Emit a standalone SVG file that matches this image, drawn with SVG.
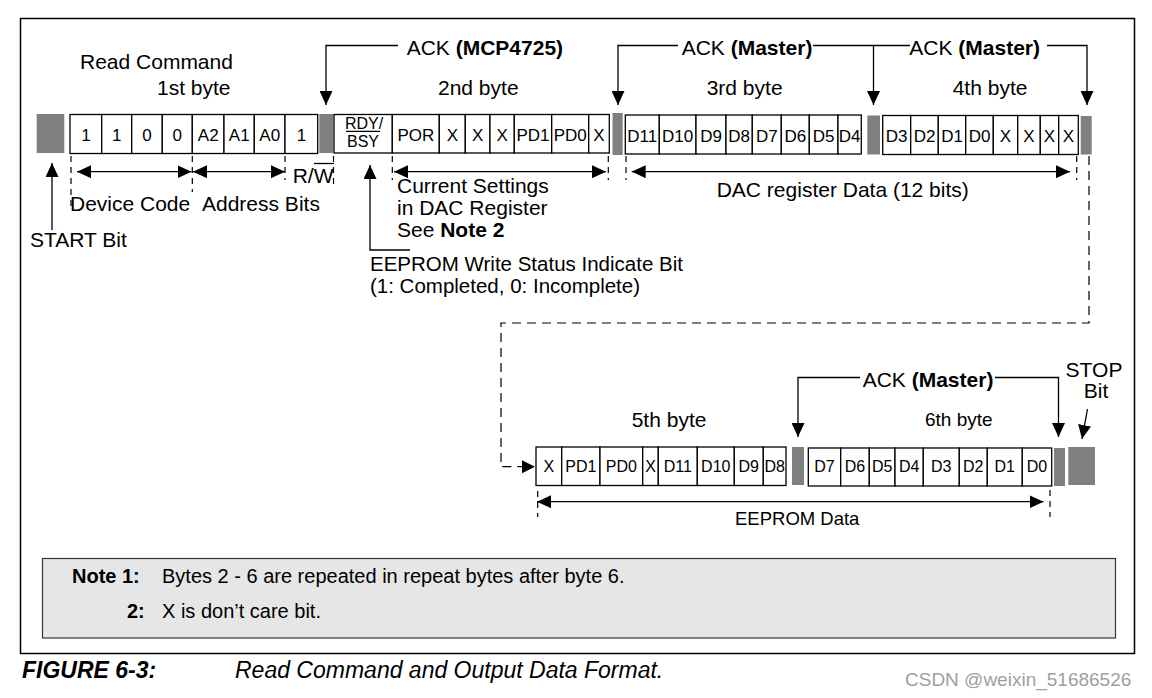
<svg xmlns="http://www.w3.org/2000/svg" width="1152" height="698" viewBox="0 0 1152 698">
<defs>
<marker id="ah" markerUnits="userSpaceOnUse" viewBox="0 0 14 13" refX="14" refY="6.5" markerWidth="14" markerHeight="13" orient="auto-start-reverse">
<path d="M0,0 L14,6.5 L0,13 z" fill="#000"/>
</marker>
</defs>
<style>
.t{font-family:"Liberation Sans",Arial,sans-serif;fill:#000}
.lbl{font-size:21px}
.ct{font-size:17px;text-anchor:middle}
.ct2{font-size:16px;text-anchor:middle}
.b{font-weight:bold}
.cell{fill:#fff;stroke:#000;stroke-width:1.3}
.ack{fill:#808080}
.ln{stroke:#000;stroke-width:1.3;fill:none}
.arr{stroke:#000;stroke-width:1.3;fill:none;marker-end:url(#ah)}
.darr{stroke:#000;stroke-width:1.3;fill:none;marker-end:url(#ah);marker-start:url(#ah)}
.g{stroke:#000;stroke-width:1.2;stroke-dasharray:6 5;fill:none}
.gl{stroke:#000;stroke-width:1.2;stroke-dasharray:9 6;fill:none}
</style>
<rect width="1152" height="698" fill="#fff"/>
<rect id="frame" x="20.5" y="18.5" width="1114" height="635" fill="none" stroke="#000" stroke-width="1.5"/>

<g id="start-bit"><rect class="ack" x="36.7" y="114" width="27.6" height="39"/></g>

<g id="byte1">
<rect class="cell" x="70" y="114.5" width="31.7" height="39"/>
<rect class="cell" x="101.7" y="114.5" width="30" height="39"/>
<rect class="cell" x="131.7" y="114.5" width="30.6" height="39"/>
<rect class="cell" x="162.3" y="114.5" width="30" height="39"/>
<rect class="cell" x="192.3" y="114.5" width="31.7" height="39"/>
<rect class="cell" x="224" y="114.5" width="30.3" height="39"/>
<rect class="cell" x="254.3" y="114.5" width="30.7" height="39"/>
<rect class="cell" x="285" y="114.5" width="32.7" height="39"/>
<text class="t ct" x="85.9" y="141">1</text>
<text class="t ct" x="116.7" y="141">1</text>
<text class="t ct" x="147" y="141">0</text>
<text class="t ct" x="177.3" y="141">0</text>
<text class="t ct" x="208.2" y="141">A2</text>
<text class="t ct" x="239.2" y="141">A1</text>
<text class="t ct" x="269.7" y="141">A0</text>
<text class="t ct" x="301.4" y="141">1</text>
</g>
<g id="ack1"><rect class="ack" x="319.3" y="114" width="14" height="39"/></g>

<g id="byte2">
<rect class="cell" x="334" y="114.5" width="58.3" height="38.5"/>
<rect class="cell" x="392.3" y="114.5" width="47" height="38.5"/>
<rect class="cell" x="439.3" y="114.5" width="26" height="38.5"/>
<rect class="cell" x="465.3" y="114.5" width="24.7" height="38.5"/>
<rect class="cell" x="490" y="114.5" width="24.3" height="38.5"/>
<rect class="cell" x="514.3" y="114.5" width="37.4" height="38.5"/>
<rect class="cell" x="551.7" y="114.5" width="37" height="38.5"/>
<rect class="cell" x="588.7" y="114.5" width="20.6" height="38.5"/>
<text class="t ct2" x="364" y="129">RDY/</text>
<line class="ln" x1="346" y1="131.3" x2="380" y2="131.3" stroke-width="1.1"/>
<text class="t ct2" x="363" y="147">BSY</text>
<text class="t ct" x="415.8" y="141">POR</text>
<text class="t ct" x="452.3" y="141">X</text>
<text class="t ct" x="477.7" y="141">X</text>
<text class="t ct" x="502.2" y="141">X</text>
<text class="t ct" x="533" y="141">PD1</text>
<text class="t ct" x="570.2" y="141">PD0</text>
<text class="t ct" x="599" y="141">X</text>
</g>
<g id="ack2"><rect class="ack" x="612.5" y="113" width="10.2" height="42"/></g>

<g id="byte3">
<rect class="cell" x="625.3" y="115" width="34" height="39"/>
<rect class="cell" x="659.3" y="115" width="36.7" height="39"/>
<rect class="cell" x="696" y="115" width="30" height="39"/>
<rect class="cell" x="726" y="115" width="26.3" height="39"/>
<rect class="cell" x="752.3" y="115" width="29" height="39"/>
<rect class="cell" x="781.3" y="115" width="28" height="39"/>
<rect class="cell" x="809.3" y="115" width="28.7" height="39"/>
<rect class="cell" x="838" y="115" width="23.3" height="39"/>
<text class="t ct" x="642.3" y="141.5">D11</text>
<text class="t ct" x="677.7" y="141.5">D10</text>
<text class="t ct" x="711" y="141.5">D9</text>
<text class="t ct" x="739.2" y="141.5">D8</text>
<text class="t ct" x="766.8" y="141.5">D7</text>
<text class="t ct" x="795.3" y="141.5">D6</text>
<text class="t ct" x="823.7" y="141.5">D5</text>
<text class="t ct" x="849.7" y="141.5">D4</text>
</g>
<g id="ack3"><rect class="ack" x="867.3" y="115.5" width="12.7" height="39"/></g>

<g id="byte4">
<rect class="cell" x="882.7" y="115.5" width="28" height="39"/>
<rect class="cell" x="910.7" y="115.5" width="27.6" height="39"/>
<rect class="cell" x="938.3" y="115.5" width="27.4" height="39"/>
<rect class="cell" x="965.7" y="115.5" width="27.6" height="39"/>
<rect class="cell" x="993.3" y="115.5" width="24.4" height="39"/>
<rect class="cell" x="1017.7" y="115.5" width="22.6" height="39"/>
<rect class="cell" x="1040.3" y="115.5" width="18.4" height="39"/>
<rect class="cell" x="1058.7" y="115.5" width="19.6" height="39"/>
<text class="t ct" x="896.7" y="142">D3</text>
<text class="t ct" x="924.5" y="142">D2</text>
<text class="t ct" x="952" y="142">D1</text>
<text class="t ct" x="979.5" y="142">D0</text>
<text class="t ct" x="1005.5" y="142">X</text>
<text class="t ct" x="1029" y="142">X</text>
<text class="t ct" x="1049.5" y="142">X</text>
<text class="t ct" x="1068.5" y="142">X</text>
</g>
<g id="ack4"><rect class="ack" x="1080.7" y="116" width="11" height="38.5"/></g>

<g id="byte5">
<rect class="cell" x="536" y="447" width="25.7" height="38.5"/>
<rect class="cell" x="561.7" y="447" width="38.3" height="38.5"/>
<rect class="cell" x="600" y="447" width="42.7" height="38.5"/>
<rect class="cell" x="642.7" y="447" width="15.6" height="38.5"/>
<rect class="cell" x="658.3" y="447" width="39" height="38.5"/>
<rect class="cell" x="697.3" y="447" width="37" height="38.5"/>
<rect class="cell" x="734.3" y="447" width="29" height="38.5"/>
<rect class="cell" x="763.3" y="447" width="22.7" height="38.5"/>
<text class="t ct2" x="548.9" y="471.5">X</text>
<text class="t ct2" x="580.9" y="471.5">PD1</text>
<text class="t ct2" x="621.4" y="471.5">PD0</text>
<text class="t ct2" x="650.5" y="471.5">X</text>
<text class="t ct2" x="677.8" y="471.5">D11</text>
<text class="t ct2" x="715.8" y="471.5">D10</text>
<text class="t ct2" x="748.8" y="471.5">D9</text>
<text class="t ct2" x="774.7" y="471.5">D8</text>
</g>
<g id="ack5"><rect class="ack" x="792" y="447" width="12" height="38"/></g>

<g id="byte6">
<rect class="cell" x="808.3" y="448" width="32.4" height="38"/>
<rect class="cell" x="840.7" y="448" width="28.6" height="38"/>
<rect class="cell" x="869.3" y="448" width="25.7" height="38"/>
<rect class="cell" x="895" y="448" width="28.3" height="38"/>
<rect class="cell" x="923.3" y="448" width="36" height="38"/>
<rect class="cell" x="959.3" y="448" width="28" height="38"/>
<rect class="cell" x="987.3" y="448" width="35" height="38"/>
<rect class="cell" x="1022.3" y="448" width="29.4" height="38"/>
<text class="t ct2" x="824.5" y="472">D7</text>
<text class="t ct2" x="855" y="472">D6</text>
<text class="t ct2" x="882.2" y="472">D5</text>
<text class="t ct2" x="909.2" y="472">D4</text>
<text class="t ct2" x="941.3" y="472">D3</text>
<text class="t ct2" x="973.3" y="472">D2</text>
<text class="t ct2" x="1004.8" y="472">D1</text>
<text class="t ct2" x="1037" y="472">D0</text>
</g>
<g id="ack6"><rect class="ack" x="1054" y="448" width="11" height="38"/></g>
<g id="stop-bit"><rect class="ack" x="1068.3" y="447" width="26.7" height="38"/></g>

<g id="connectors">
<path class="arr" d="M398,45.5 H326 V105"/>
<path class="arr" d="M678,45.5 H618 V105"/>
<path class="ln" d="M813,45.5 H910"/>
<path class="arr" d="M873.5,45.5 V105"/>
<path class="arr" d="M1047,45.5 H1087 V105"/>
<path class="arr" d="M52,230 V163"/>
<path class="darr" d="M77,171.7 H191.5"/>
<path class="darr" d="M193,171.7 H285"/>
<path class="darr" d="M394,171.7 H606"/>
<path class="darr" d="M631.7,171.7 H1070"/>
<path class="arr" d="M410,250 H370 V165"/>
<path class="g" d="M71,156 V206"/>
<path class="g" d="M192.3,156 V192"/>
<path class="g" d="M285,156 V180"/>
<path class="g" d="M333.5,156 V184"/>
<path class="g" d="M392.3,156 V180"/>
<path class="g" d="M608.3,156 V180"/>
<path class="g" d="M626,156 V180"/>
<path class="g" d="M1076.7,156 V180"/>
<path class="gl" d="M1089,156 V323 H501 V466.7 H525"/>
<path d="M522,460.2 L535,466.7 L522,473.2 z" fill="#000"/>
<path class="arr" d="M860,377.5 H798 V437"/>
<path class="arr" d="M995,377.5 H1058.5 V437"/>
<path class="arr" d="M1087.5,409 L1082,439"/>
<path class="darr" d="M537,501.7 H1043.5"/>
<path class="g" d="M537.7,491 V517"/>
<path class="g" d="M1050,490 V517"/>
<line class="ln" x1="314" y1="163.5" x2="334" y2="163.5"/>
</g>

<g id="labels">
<text class="t lbl" x="80" y="69">Read Command</text>
<text class="t lbl" x="157" y="95">1st byte</text>
<text class="t lbl" x="406.7" y="55">ACK <tspan class="b">(MCP4725)</tspan></text>
<text class="t lbl" x="438" y="95">2nd byte</text>
<text class="t lbl" x="681.7" y="55">ACK <tspan class="b">(Master)</tspan></text>
<text class="t lbl" x="706.7" y="95">3rd byte</text>
<text class="t lbl" x="909.3" y="55">ACK <tspan class="b">(Master)</tspan></text>
<text class="t lbl" x="952.7" y="95">4th byte</text>
<text class="t lbl" x="292.7" y="183.3">R/W</text>
<text class="t lbl" x="70" y="210.5">Device Code</text>
<text class="t lbl" x="202" y="210.5">Address Bits</text>
<text class="t lbl" x="30" y="247">START Bit</text>
<text class="t lbl" x="397" y="193.3">Current Settings</text>
<text class="t lbl" x="397" y="215">in DAC Register</text>
<text class="t lbl" x="397" y="236.7">See <tspan class="b">Note 2</tspan></text>
<text class="t" font-size="20.5" x="370" y="271">EEPROM Write Status Indicate Bit</text>
<text class="t" font-size="20.5" x="370" y="293">(1: Completed, 0: Incomplete)</text>
<text class="t lbl" x="716.7" y="196.7">DAC register Data (12 bits)</text>
<text class="t lbl" x="631.7" y="426.7">5th byte</text>
<text class="t lbl" x="862.7" y="387.3">ACK <tspan class="b">(Master)</tspan></text>
<text class="t" font-size="19" x="925" y="426">6th byte</text>
<text class="t lbl" x="1094" y="377.3" text-anchor="middle">STOP</text>
<text class="t lbl" x="1096" y="398.3" text-anchor="middle">Bit</text>
<text class="t" font-size="18.5" x="735" y="525">EEPROM Data</text>
</g>

<g id="notes">
<rect x="42.5" y="558.5" width="1073" height="79.5" fill="#e6e6e6" stroke="#333" stroke-width="1.2"/>
<text class="t b" font-size="20" x="72" y="583">Note 1:</text>
<text class="t" font-size="20" x="162" y="583">Bytes 2 - 6 are repeated in repeat bytes after byte 6.</text>
<text class="t b" font-size="20" x="127" y="618">2:</text>
<text class="t" font-size="20" x="162" y="618">X is don’t care bit.</text>
</g>

<g id="caption">
<text class="t b" font-size="23" font-style="italic" x="22" y="678">FIGURE 6-3:</text>
<text class="t" font-size="23" font-style="italic" x="235" y="678">Read Command and Output Data Format.</text>
<text font-family="'Liberation Sans',Arial,sans-serif" font-size="19" fill="#a0a0a0" x="905" y="686">CSDN @weixin_51686526</text>
</g>
</svg>
